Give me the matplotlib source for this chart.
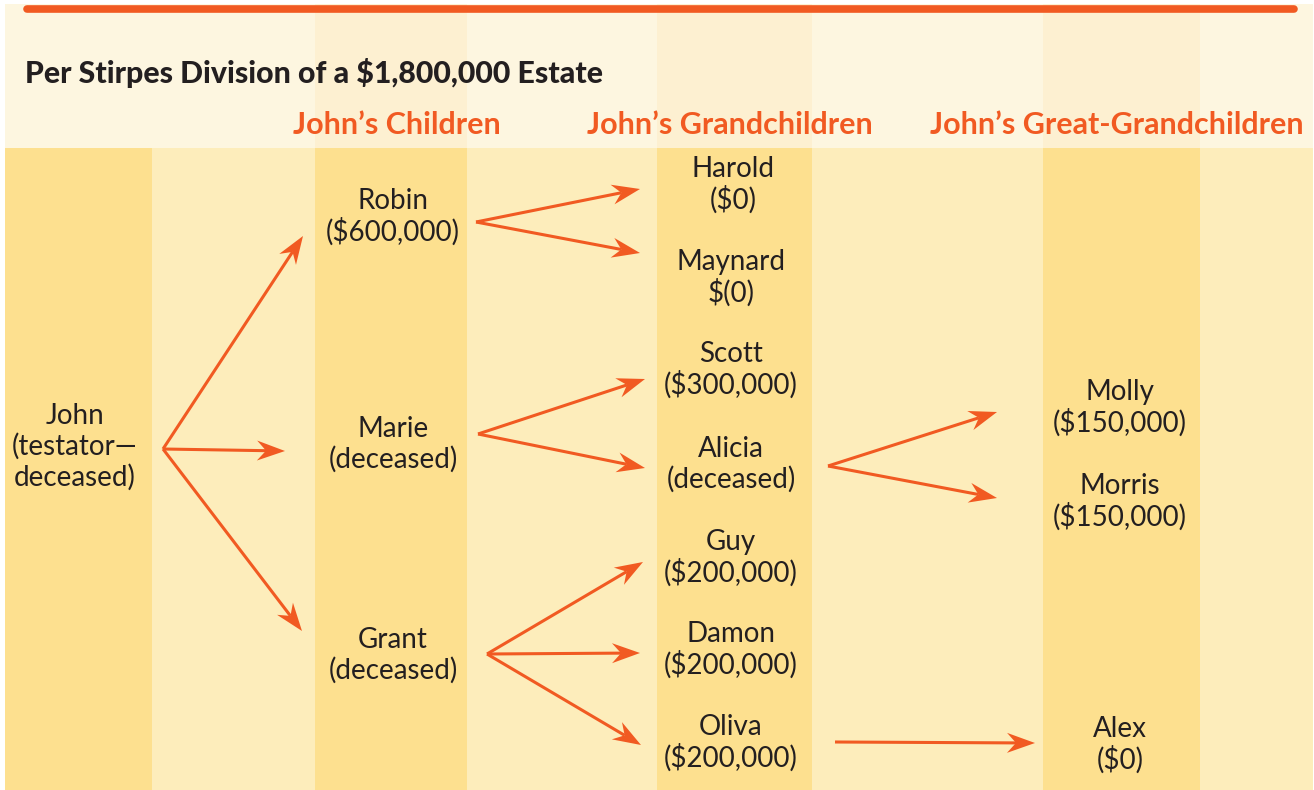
import numpy as np
import matplotlib.pyplot as plt
from matplotlib.patches import Rectangle, Polygon
from matplotlib.lines import Line2D

plt.rcParams['font.family'] = ['Lato', 'DejaVu Sans']

W, H = 1314, 790
ORANGE = '#f15a22'
INK = '#231f20'

title = 'Per Stirpes Division of a $1,800,000 Estate'
generations = ['John\u2019s Children', 'John\u2019s Grandchildren', 'John\u2019s Great-Grandchildren']

# people in the tree: name, share text
names = ['John', 'Robin', 'Marie', 'Grant',
         'Harold', 'Maynard', 'Scott', 'Alicia', 'Guy', 'Damon', 'Oliva',
         'Molly', 'Morris', 'Alex']
shares = ['(testator\u2014\ndeceased)', '($600,000)', '(deceased)', '(deceased)',
          '($0)', '$(0)', '($300,000)', '(deceased)', '($200,000)', '($200,000)', '($200,000)',
          '($150,000)', '($150,000)', '($0)']
# who passes to whom (index pairs)
links = [(0, 1), (0, 2), (0, 3),
         (1, 4), (1, 5),
         (2, 6), (2, 7),
         (3, 8), (3, 9), (3, 10),
         (7, 11), (7, 12),
         (10, 13)]

# layout (pixels)
node_xy = {0: (75, 447), 1: (393, 217), 2: (393, 444), 3: (393, 655),
           4: (733, 185), 5: (731, 278), 6: (731, 370), 7: (731, 464),
           8: (731, 558), 9: (731, 650), 10: (731, 743),
           11: (1120, 408), 12: (1120, 502), 13: (1120, 745)}
arrow_start = {0: (163, 449), 1: (476, 222), 2: (478, 434), 3: (487, 654),
               7: (828, 466), 10: (835, 742)}
arrow_tip = {1: (303, 236), 2: (285, 451), 3: (302, 631),
             4: (640, 189), 5: (640, 253),
             6: (645, 379), 7: (645, 468),
             8: (643, 562), 9: (640, 653), 10: (641, 745),
             11: (997, 412), 12: (997, 498), 13: (1035, 743)}

band_edges = [5, 152, 315, 467, 657, 812, 1043, 1200, 1313]
head_top, body_top = 4, 148

fig = plt.figure(figsize=(W / 100, H / 100), dpi=100)
ax = fig.add_axes([0, 0, 1, 1])
ax.set_xlim(0, W)
ax.set_ylim(H, 0)
ax.axis('off')

# header background and column stripes
for i in range(len(band_edges) - 1):
    x0, x1 = band_edges[i], band_edges[i + 1]
    dark = i % 2 == 0 and i > 0
    ax.add_patch(Rectangle((x0, head_top), x1 - x0, body_top - head_top,
                           color='#fdf0d1' if dark else '#fdf6e0', lw=0))
    ax.add_patch(Rectangle((x0, body_top), x1 - x0, H - body_top,
                           color='#fde08f' if i % 2 == 0 else '#fdedbb', lw=0))

ax.add_line(Line2D([27, 1294], [9, 9], color=ORANGE, lw=5.5, solid_capstyle='round'))

ax.text(25, 73, title, fontsize=21.8, fontweight='black', color=INK, va='center', ha='left')
for g, cx in zip(generations, [397, 730, 1117]):
    ax.text(cx, 125, g, fontsize=22, fontweight='bold', color=ORANGE, va='center', ha='center')

for i, (n, s) in enumerate(zip(names, shares)):
    x, y = node_xy[i]
    ax.text(x, y, n + '\n' + s, fontsize=20, color=INK, ha='center', va='center',
            linespacing=1.18)


def stealth(p0, p1, L=28, hw=10, notch=9):
    p0, p1 = np.array(p0, float), np.array(p1, float)
    u = (p1 - p0) / np.linalg.norm(p1 - p0)
    n = np.array([-u[1], u[0]])
    base = p1 - (L - notch) * u
    ax.add_line(Line2D([p0[0], base[0]], [p0[1], base[1]], color=ORANGE, lw=2.2,
                       solid_capstyle='butt'))
    pts = [p1, p1 - L * u + hw * n, base, p1 - L * u - hw * n]
    ax.add_patch(Polygon(pts, closed=True, color=ORANGE, lw=0))


for a, b in links:
    stealth(arrow_start[a], arrow_tip[b])

fig.savefig('out.png', dpi=100, facecolor='white')
